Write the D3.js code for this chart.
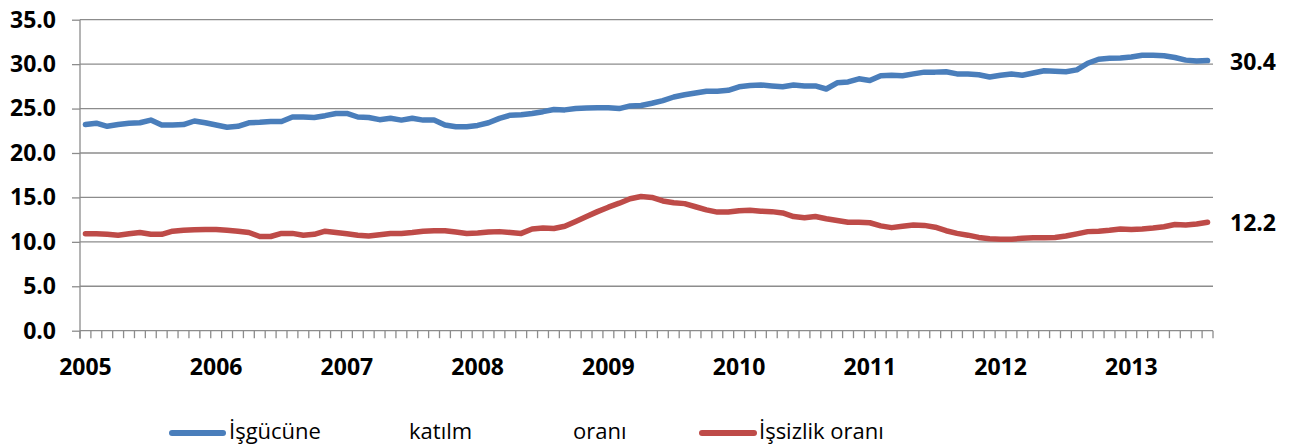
<!DOCTYPE html>
<html>
<head>
<meta charset="utf-8">
<script src="https://cdn.jsdelivr.net/npm/d3@7"></script>
<style>
  html, body { margin: 0; padding: 0; background: #fff; }
  svg { display: block; }
  text { font-family: "Open Sans", "DejaVu Sans", sans-serif; fill: #000; }
</style>
</head>
<body>
<svg id="chart" width="1297" height="448"></svg>
<script>
// ---- data ----
const years = [2005, 2006, 2007, 2008, 2009, 2010, 2011, 2012, 2013];
const monthsInLastYear = 8;
const yTicks = [0, 5, 10, 15, 20, 25, 30, 35];
const seriesNames = ["İşgücüne katılm oranı", "İşsizlik oranı"];
const legendWords = ["İşgücüne", "katılm", "oranı"];

const participation = [
  23.2, 23.35, 23.0, 23.2, 23.35, 23.4, 23.7, 23.15, 23.15, 23.2, 23.6, 23.4,
  23.15, 22.9, 23.0, 23.4, 23.45, 23.55, 23.55, 24.05, 24.05, 24.0, 24.2, 24.45,
  24.45, 24.05, 24.0, 23.75, 23.9, 23.7, 23.9, 23.7, 23.7, 23.15, 22.95, 22.95,
  23.1, 23.4, 23.9, 24.25, 24.3, 24.45, 24.65, 24.9, 24.85, 25.0, 25.05, 25.1,
  25.1, 25.0, 25.3, 25.35, 25.6, 25.9, 26.3, 26.55, 26.75, 26.95, 26.95, 27.05,
  27.45, 27.6, 27.65, 27.55, 27.45, 27.65, 27.55, 27.55, 27.2, 27.9, 28.0, 28.35,
  28.15, 28.7, 28.75, 28.7, 28.9, 29.1, 29.1, 29.15, 28.9, 28.9, 28.8, 28.55,
  28.75, 28.9, 28.75, 29.0, 29.25, 29.2, 29.15, 29.35, 30.1, 30.55, 30.65, 30.7,
  30.8, 31.0, 31.0, 30.95, 30.75, 30.45, 30.35, 30.4
];
const unemployment = [
  10.9, 10.9, 10.85, 10.75, 10.9, 11.05, 10.85, 10.85, 11.2, 11.3, 11.35, 11.4,
  11.4, 11.3, 11.2, 11.05, 10.6, 10.6, 10.95, 10.95, 10.75, 10.85, 11.2, 11.05,
  10.9, 10.75, 10.65, 10.8, 10.95, 10.95, 11.05, 11.2, 11.25, 11.25, 11.1, 10.95,
  11.0, 11.1, 11.15, 11.05, 10.95, 11.45, 11.55, 11.5, 11.75, 12.3, 12.85, 13.4,
  13.9, 14.35, 14.85, 15.1, 15.0, 14.6, 14.4, 14.3, 13.95, 13.6, 13.35, 13.35,
  13.5, 13.55, 13.45, 13.4, 13.25, 12.85, 12.7, 12.85, 12.6, 12.4, 12.2, 12.2,
  12.15, 11.8, 11.6, 11.75, 11.9, 11.85, 11.65, 11.25, 10.95, 10.75, 10.5, 10.35,
  10.3, 10.3, 10.4, 10.45, 10.45, 10.5, 10.65, 10.9, 11.15, 11.2, 11.3, 11.45,
  11.4, 11.45, 11.55, 11.7, 11.95, 11.9, 12.0, 12.2
];

// category labels (year-month)
const categories = [];
years.forEach((yr, yi) => {
  const n = yi === years.length - 1 ? monthsInLastYear : 12;
  for (let m = 1; m <= n; m++) categories.push(yr + "-" + String(m).padStart(2, "0"));
});

// ---- layout ----
const svg = d3.select("#chart");
const plotL = 80, plotR = 1213, plotT = 19.7, plotB = 330.7;
const gridColor = "#8c8c8c";
const colors = ["#4a7ebb", "#be4b48"];

const x = d3.scaleBand().domain(categories).range([plotL, plotR]).paddingInner(0).paddingOuter(0);
const y = d3.scaleLinear().domain([0, 35]).range([plotB, plotT]);
const cx = c => x(c) + x.bandwidth() / 2;

// gridlines
svg.append("g").selectAll("line").data(yTicks.filter(t => t > 0)).join("line")
  .attr("x1", plotL).attr("x2", plotR)
  .attr("y1", d => y(d)).attr("y2", d => y(d))
  .attr("stroke", gridColor).attr("stroke-width", 1.3);

// y axis
const yAxis = d3.axisLeft(y).tickValues(yTicks).tickSize(8).tickPadding(16)
  .tickFormat(d3.format(".1f"));
const gy = svg.append("g").attr("transform", `translate(${plotL},0)`).call(yAxis);
gy.select(".domain").attr("stroke", gridColor).attr("stroke-width", 1.3)
  .attr("d", `M0,${plotT}V${plotB + 8}`);
gy.selectAll(".tick line").attr("stroke", gridColor).attr("stroke-width", 1.3);
gy.selectAll(".tick text").attr("font-family", "Open Sans").attr("font-weight", "bold")
  .attr("font-size", 23).attr("fill", "#000");

// x axis: baseline + ticks at category boundaries
const boundaries = categories.map(c => x(c)).concat([plotR]);
svg.append("line").attr("x1", plotL).attr("x2", plotR).attr("y1", plotB).attr("y2", plotB)
  .attr("stroke", gridColor).attr("stroke-width", 1.3);
svg.append("g").selectAll("line").data(boundaries).join("line")
  .attr("x1", d => d).attr("x2", d => d).attr("y1", plotB).attr("y2", plotB + 7.5)
  .attr("stroke", gridColor).attr("stroke-width", 1.3);

// year labels at first month of each year
svg.append("g").selectAll("text").data(years).join("text")
  .attr("x", d => cx(d + "-01")).attr("y", 365.5)
  .attr("text-anchor", "middle").attr("dominant-baseline", "central")
  .attr("font-weight", "bold").attr("font-size", 23)
  .text(d => d);

// lines
const series = [participation, unemployment];
const line = d3.line().x((d, i) => cx(categories[i])).y(d => y(d));
series.forEach((s, k) => {
  svg.append("path").datum(s).attr("d", line)
    .attr("fill", "none").attr("stroke", colors[k]).attr("stroke-width", 5.5)
    .attr("stroke-linejoin", "round").attr("stroke-linecap", "round");
  svg.append("text").attr("x", 1230).attr("y", y(s[s.length - 1]))
    .attr("dominant-baseline", "central").attr("font-weight", "bold").attr("font-size", 23)
    .text(d3.format(".1f")(s[s.length - 1]));
});

// legend
const legY = 433;
const legTextY = 430;
svg.append("line").attr("x1", 172).attr("x2", 223).attr("y1", legY).attr("y2", legY)
  .attr("stroke", colors[0]).attr("stroke-width", 6).attr("stroke-linecap", "round");
const wordX = [229, 409, 573];
legendWords.forEach((w, i) => {
  svg.append("text").attr("x", wordX[i]).attr("y", legTextY).attr("dominant-baseline", "central")
    .attr("font-size", 22).text(w);
});
svg.append("line").attr("x1", 702).attr("x2", 754).attr("y1", legY).attr("y2", legY)
  .attr("stroke", colors[1]).attr("stroke-width", 6).attr("stroke-linecap", "round");
svg.append("text").attr("x", 759).attr("y", legTextY).attr("dominant-baseline", "central")
  .attr("font-size", 22).text(seriesNames[1]);
</script>
</body>
</html>
